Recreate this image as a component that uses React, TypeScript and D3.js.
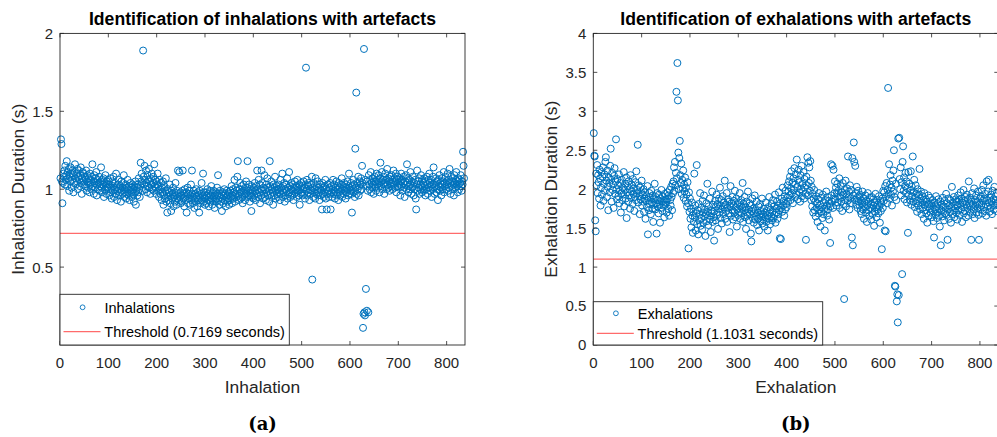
import React from 'react';
import * as d3 from 'd3';

// Inhalation durations (s), one value per inhalation
const inhalations1to100 = [
  1.07,1.32,1.29,1.05,0.91,1.04,1.10,1.08,1.12,1.03,1.15,1.06,1.09,1.18,1.02,1.11,1.07,1.13,0.99,1.08,1.05,1.14,1.10,1.01,1.06,1.12,1.09,0.98,1.04,1.11,1.16,1.07,1.03,1.10,1.05,1.13,1.00,1.08,1.12,1.06,1.02,1.09,1.14,1.04,0.97,1.07,1.11,1.05,1.10,1.03,
  1.08,1.02,1.06,1.12,0.99,1.05,1.09,1.01,1.07,1.04,0.98,1.10,1.03,1.06,1.00,1.08,1.16,1.02,1.05,0.97,1.09,1.04,1.01,1.07,1.11,0.96,1.03,1.06,1.00,1.04,1.08,0.99,1.02,1.05,1.14,1.01,0.98,1.06,1.03,1.07,0.95,1.04,1.00,1.09,1.02,0.97,1.05,1.01,1.06,1.03,
];
const inhalations101to200 = [
  1.00,0.96,1.03,1.07,0.98,1.01,0.94,1.05,0.99,1.02,1.08,0.95,1.00,1.04,0.97,1.10,1.01,0.93,0.99,1.03,1.06,0.96,1.00,0.98,1.02,0.92,1.05,0.99,1.01,0.97,1.04,1.09,0.95,1.00,0.98,1.03,0.94,1.01,0.97,1.06,1.00,0.96,1.02,0.93,0.99,1.04,0.98,1.01,0.95,1.03,
  0.97,1.00,0.92,1.02,0.98,1.05,0.90,0.99,1.01,0.96,1.03,0.98,1.07,1.00,0.95,1.02,1.17,1.05,1.10,1.04,0.99,1.89,1.08,1.03,1.15,1.06,1.00,1.12,1.04,0.98,1.09,1.02,1.06,1.13,1.01,1.05,0.97,1.07,1.03,1.10,1.00,1.04,1.08,0.99,1.16,1.02,1.06,1.01,0.97,1.05,
];
const inhalations201to300 = [
  1.03,1.10,0.99,1.02,0.95,1.06,1.00,0.97,1.04,0.93,1.01,0.98,1.05,0.90,0.96,1.02,0.94,0.99,1.07,0.92,0.97,0.85,1.00,0.95,0.93,0.98,1.03,0.91,0.96,0.86,0.99,0.94,0.97,1.01,0.89,0.95,0.98,0.92,1.04,0.96,0.90,0.99,0.94,1.12,0.97,0.93,1.11,0.95,0.98,0.91,
  0.96,0.92,0.99,1.12,0.94,0.97,0.89,1.00,0.95,0.93,0.98,0.85,0.96,1.01,0.91,0.97,0.94,0.99,0.90,0.96,1.03,0.93,1.12,0.97,0.91,0.95,0.99,0.88,0.94,0.97,0.92,1.00,0.95,0.89,0.98,0.93,0.96,0.85,0.99,0.94,0.91,0.97,1.04,0.93,0.96,1.10,0.92,0.98,0.95,0.90,
];
const inhalations301to400 = [
  0.94,0.98,0.91,0.96,1.00,0.93,0.97,0.89,0.95,0.99,0.92,0.96,1.02,0.94,0.90,0.97,0.93,0.99,0.95,0.88,0.96,0.92,0.98,0.94,1.01,0.97,1.09,0.93,0.96,0.90,0.99,0.95,0.92,0.97,0.86,0.94,0.98,0.91,0.96,1.00,0.93,0.97,0.89,0.95,0.99,0.92,0.96,0.94,0.98,0.90,
  0.97,0.93,0.99,0.95,1.02,0.91,0.96,1.00,0.94,0.98,1.06,0.92,0.97,1.01,0.95,0.99,1.08,1.18,0.96,0.93,1.00,0.97,1.04,0.94,0.98,1.02,0.95,0.91,0.99,1.03,0.96,1.00,0.93,0.97,1.05,0.98,1.01,1.18,0.95,0.99,1.03,0.96,0.92,1.00,0.97,0.86,1.02,0.95,0.99,0.94,
];
const inhalations401to500 = [
  1.01,0.96,1.04,0.99,0.93,1.02,0.97,1.12,1.00,0.95,1.06,0.98,1.03,0.91,1.00,0.96,1.12,0.99,1.04,0.94,1.01,0.97,1.09,0.95,1.00,0.93,1.03,0.98,1.07,0.96,1.01,0.99,0.92,1.18,1.02,0.97,1.05,0.95,1.00,0.98,0.90,1.03,0.96,1.01,1.08,0.94,0.99,1.02,0.97,1.00,
  0.95,1.03,0.98,1.00,0.93,1.06,0.97,1.01,0.99,1.10,0.95,1.02,0.98,1.04,0.92,1.00,0.96,1.03,0.99,1.07,0.94,1.01,0.97,1.11,0.98,1.02,0.95,1.00,1.04,0.96,0.99,1.03,0.93,1.01,0.97,1.05,1.00,0.98,1.02,0.95,1.06,0.99,1.01,0.96,1.03,0.90,1.00,0.97,1.04,0.98,
];
const inhalations501to600 = [
  1.02,0.96,1.00,1.05,0.97,1.01,0.94,1.03,1.78,0.99,1.06,0.96,1.02,0.98,1.04,0.93,1.00,0.97,1.03,0.99,1.08,0.42,1.01,0.95,1.04,0.98,1.00,0.94,1.07,0.97,1.02,0.99,1.05,0.96,1.01,0.98,0.93,1.03,1.00,0.96,0.99,0.87,1.04,0.97,1.01,0.95,1.02,0.98,1.06,0.94,
  1.00,0.87,0.97,1.03,0.99,0.95,1.01,0.97,1.04,0.87,0.98,1.02,0.95,1.00,1.06,0.97,1.03,0.99,0.94,1.01,0.98,1.05,0.96,1.02,1.00,0.93,1.04,0.98,1.01,0.96,1.03,0.99,1.07,0.95,1.00,1.02,0.97,1.04,0.99,1.01,0.94,1.03,0.98,1.00,1.05,0.96,1.02,1.10,0.97,1.01,
];
const inhalations601to700 = [
  0.99,1.04,0.97,0.85,1.02,1.00,1.06,0.98,1.03,0.95,1.26,1.01,1.62,0.97,1.04,1.00,1.08,0.96,1.02,1.05,0.99,1.03,1.07,1.00,1.15,1.04,0.11,0.20,1.90,0.21,0.19,1.06,0.36,1.02,0.22,1.05,0.99,0.21,1.09,1.03,1.00,1.06,1.11,0.98,1.04,1.01,1.07,1.03,0.97,1.05,
  1.08,1.02,1.05,0.99,1.10,1.03,1.06,1.01,1.09,1.04,0.98,1.07,1.17,1.02,1.05,1.11,1.00,1.06,1.03,1.08,0.97,1.04,1.10,1.02,1.06,1.00,1.13,1.03,1.07,1.01,1.05,0.99,1.08,1.04,1.02,1.09,1.06,1.00,1.04,1.12,1.03,1.07,1.01,1.05,1.10,0.98,1.06,1.02,1.08,1.04,
];
const inhalations701to836 = [
  1.01,1.07,1.03,0.96,1.05,1.10,1.02,1.06,0.99,1.04,1.08,1.01,0.95,1.05,1.03,1.09,1.00,1.16,1.04,1.07,0.98,1.02,1.06,1.00,1.11,1.03,0.97,1.05,1.01,1.08,1.02,0.96,1.04,1.00,1.06,0.94,0.87,1.03,1.12,0.99,1.05,1.01,1.07,0.97,1.03,1.00,1.09,1.02,0.98,1.06,
  1.01,1.04,0.99,1.07,1.02,0.96,1.05,1.00,1.08,1.03,0.97,1.06,1.01,1.10,1.04,0.99,1.02,1.06,0.95,1.03,1.00,1.08,1.14,1.01,0.97,1.04,1.02,1.07,0.98,1.05,1.00,0.93,1.06,1.02,1.09,0.99,1.04,1.01,0.96,1.07,1.03,1.00,1.05,1.11,0.98,1.04,1.02,1.08,1.00,1.05,
  1.03,1.10,0.99,1.06,1.01,1.13,1.04,0.97,1.08,1.02,1.05,1.00,1.07,1.03,0.96,1.09,1.04,1.01,1.06,1.11,1.02,1.05,0.98,1.07,1.03,1.00,1.06,1.04,1.09,1.02,0.99,1.05,1.03,1.24,1.15,1.07,
];

// Exhalation durations (s)
const exhalations1to100 = [
  2.72,2.43,2.42,1.60,1.46,2.20,2.05,2.31,1.95,2.18,2.09,1.88,2.25,2.14,1.79,2.02,2.22,1.93,2.16,2.28,1.85,2.07,2.19,1.98,2.35,2.41,2.11,1.90,2.24,2.03,1.73,2.15,2.08,1.96,2.30,2.52,2.12,1.84,2.21,1.99,2.06,1.76,2.17,2.27,1.94,2.10,2.64,2.00,1.87,2.13,
  2.05,1.91,2.19,1.82,1.98,2.08,1.70,1.95,2.12,1.86,2.02,1.93,2.22,1.78,1.99,2.07,1.88,2.15,1.63,1.96,2.04,1.84,2.10,1.92,2.00,1.75,2.18,1.89,2.06,1.97,1.81,2.13,1.94,2.01,1.72,1.90,2.09,1.86,2.23,1.95,1.99,2.57,1.83,2.05,1.91,1.68,2.02,1.87,1.96,2.11,
];
const exhalations101to200 = [
  1.79,1.93,1.84,2.00,1.71,1.88,1.96,1.62,1.85,1.91,1.77,2.04,1.42,1.86,1.73,1.95,1.81,1.89,1.68,1.98,1.83,1.75,1.92,1.58,1.87,1.80,2.07,1.74,1.90,1.82,1.43,1.95,1.78,1.86,1.69,1.93,1.81,1.57,1.88,1.76,1.99,1.84,1.72,1.91,1.79,1.85,1.64,1.94,1.80,1.87,
  1.83,1.70,1.96,1.88,1.75,1.92,1.66,1.99,1.86,1.79,2.03,1.90,1.73,2.07,1.95,2.10,2.28,1.98,2.35,2.05,2.21,3.25,2.14,3.62,3.14,2.47,2.00,2.40,2.62,2.18,2.08,2.33,1.94,2.12,2.01,2.24,1.89,2.06,1.97,2.15,1.85,2.02,1.93,1.78,2.09,1.82,1.24,1.96,1.71,1.88,
];
const exhalations201to300 = [
  1.62,1.75,1.51,1.83,1.66,1.44,1.71,1.58,2.20,1.64,1.79,1.47,1.69,2.31,1.55,1.73,1.42,1.81,1.60,1.67,1.95,1.53,1.76,1.63,1.48,1.85,1.70,1.57,1.92,1.65,1.74,1.40,1.68,1.82,1.59,2.07,1.71,1.54,1.78,1.66,1.88,1.61,1.45,1.73,1.69,1.97,1.58,1.80,1.64,1.34,
  1.72,1.85,1.60,1.78,1.93,1.67,1.81,1.49,1.75,1.88,1.70,2.02,1.63,1.79,1.86,1.56,1.74,1.91,1.68,1.83,1.77,2.11,1.62,1.80,1.72,1.95,1.58,1.76,1.87,1.69,1.84,1.45,1.78,2.04,1.66,1.82,1.73,1.90,1.61,1.79,1.85,1.70,1.98,1.64,1.77,1.88,1.52,1.74,1.81,1.67,
];
const exhalations301to400 = [
  1.83,1.71,1.95,1.62,1.78,1.86,1.69,1.76,2.08,1.58,1.81,1.73,1.90,1.64,1.77,1.49,1.84,1.70,1.66,1.97,1.74,1.60,1.82,1.68,1.79,1.43,1.33,1.72,1.88,1.63,1.75,1.57,1.69,1.92,1.61,1.73,1.66,1.84,1.54,1.70,1.62,1.78,1.47,1.67,1.81,1.59,1.72,1.65,1.88,1.56,
  1.68,1.61,1.75,1.52,1.70,1.64,1.83,1.58,1.72,1.66,1.47,1.77,1.62,1.90,1.69,1.55,1.74,1.65,1.81,1.60,1.71,1.86,1.63,1.78,1.67,1.93,1.57,1.75,1.70,1.84,1.62,1.79,1.68,1.96,1.73,1.37,1.82,1.36,1.76,1.88,1.71,2.02,1.79,1.85,1.66,1.91,1.74,1.98,1.81,1.77,
];
const exhalations401to500 = [
  1.89,2.05,1.84,1.97,2.10,1.92,2.16,1.86,2.01,2.23,1.95,2.08,1.82,2.14,1.99,2.27,1.90,2.06,2.19,1.93,2.38,2.03,1.87,2.12,2.25,1.96,2.09,1.84,2.18,2.00,2.30,1.91,2.07,1.97,2.22,1.88,2.13,2.02,1.94,1.35,2.16,2.05,2.41,1.92,2.34,2.08,2.28,1.98,2.36,2.11,
  1.86,2.03,1.78,1.94,1.70,1.88,1.99,1.73,1.84,1.65,1.91,1.76,1.82,1.58,1.87,1.69,1.95,1.74,1.80,1.52,1.89,1.71,1.77,1.63,1.93,1.68,1.83,1.75,1.47,1.86,1.72,1.97,1.79,1.66,1.90,1.74,1.85,1.61,1.81,1.31,1.78,2.32,1.92,1.84,2.30,1.76,2.25,1.88,1.95,2.10,
];
const exhalations501to600 = [
  1.87,2.02,1.79,1.95,2.07,1.83,1.98,1.91,2.14,1.76,1.89,2.04,1.84,1.96,1.72,2.08,1.93,1.81,0.59,1.99,1.86,2.11,1.78,1.94,2.01,1.85,2.42,1.90,1.97,1.74,2.05,1.88,1.82,1.99,1.38,2.40,1.28,1.92,2.60,2.35,1.86,2.30,1.95,1.80,2.03,1.89,1.76,1.98,1.84,1.91,
  1.79,1.93,1.72,1.86,1.68,1.81,1.97,1.74,1.88,1.62,1.83,1.77,1.92,1.70,1.85,1.58,1.79,1.95,1.73,1.84,1.66,1.89,1.76,1.81,1.61,1.90,1.75,1.68,1.87,1.79,1.53,1.83,1.71,1.94,1.77,1.64,1.86,1.74,1.80,1.69,1.91,1.78,1.57,1.85,1.72,1.82,1.23,1.88,1.76,1.98,
];
const exhalations601to700 = [
  1.85,1.96,1.47,2.04,1.46,1.91,2.08,1.82,1.99,3.30,1.94,2.32,1.88,2.06,2.18,1.93,2.02,1.79,2.11,1.97,2.24,2.50,1.90,0.76,0.75,2.07,1.86,0.56,0.65,0.29,2.65,0.64,2.66,2.13,2.00,2.28,1.92,2.09,0.91,2.35,2.55,1.98,2.15,1.87,2.04,2.21,1.95,2.10,1.83,2.01,
  1.44,2.22,1.92,2.07,1.86,1.98,2.23,1.80,2.03,1.91,2.42,1.84,1.96,2.12,1.77,1.89,2.05,1.82,1.94,1.71,2.00,1.85,1.79,1.93,2.26,1.74,1.88,1.97,1.68,1.83,1.91,1.76,1.86,1.62,1.95,1.80,1.73,1.87,1.69,1.84,1.57,1.78,1.92,1.66,1.81,1.75,1.89,1.70,1.82,1.64,
];
const exhalations701to836 = [
  1.79,1.86,1.72,1.59,1.38,1.83,1.74,1.68,1.91,1.77,1.63,1.81,1.70,1.87,1.66,1.75,1.52,1.84,1.28,1.73,1.80,1.65,1.89,1.71,1.78,1.60,1.85,1.69,1.76,1.94,1.67,1.82,1.35,1.74,1.88,1.62,1.79,1.71,1.86,1.57,1.77,2.03,1.68,1.83,1.73,1.90,1.64,1.80,1.75,1.87,
  1.70,1.84,1.61,1.79,1.92,1.73,1.86,1.67,1.81,1.96,1.74,1.88,1.58,1.83,1.77,1.99,1.69,1.85,1.72,1.90,1.64,1.80,1.93,1.76,1.87,1.66,2.10,1.82,1.71,1.89,1.78,1.35,1.84,1.95,1.68,1.80,1.74,2.01,1.63,1.86,1.79,1.92,1.70,1.83,1.76,1.97,1.67,1.35,1.81,1.88,
  1.74,1.91,1.79,1.99,1.69,1.85,2.05,1.77,1.88,1.72,1.94,1.81,1.66,2.10,1.86,1.78,1.97,2.12,1.83,1.71,1.89,1.76,1.93,1.84,1.68,1.98,1.80,1.87,1.74,2.03,1.79,1.91,1.85,1.72,1.95,1.82,
];

const inhalations = [
  ...inhalations1to100, ...inhalations101to200, ...inhalations201to300, ...inhalations301to400,
  ...inhalations401to500, ...inhalations501to600, ...inhalations601to700, ...inhalations701to836,
];
const exhalations = [
  ...exhalations1to100, ...exhalations101to200, ...exhalations201to300, ...exhalations301to400,
  ...exhalations401to500, ...exhalations501to600, ...exhalations601to700, ...exhalations701to836,
];

const inhalationThreshold = 0.7169;
const exhalationThreshold = 1.1031;
const xTicks = [0, 100, 200, 300, 400, 500, 600, 700, 800];
const inhalationYTicks = [0.5, 1, 1.5, 2];
const exhalationYTicks = [0, 0.5, 1, 1.5, 2, 2.5, 3, 3.5, 4];

const SANS = '"Liberation Sans", Arial, Helvetica, sans-serif';
const BLUE = '#0072BD';
const RED = '#ff6b6b';
const AXIS = '#262626';

type PanelProps = {
  values: number[];
  threshold: number;
  yMax: number;
  yTicks: number[];
  title: string;
  xLabel: string;
  yLabel: string;
  seriesName: string;
  caption: string;
  left: number;
  legend: { w: number; top: number; markerY: number; textY1: number; lineY: number; textY2: number };
};

const Panel = ({ values, threshold, yMax, yTicks, title, xLabel, yLabel, seriesName, caption, left, legend }: PanelProps) => {
  const top = 33.4;
  const bottom = 345;
  const width = 405;
  const right = left + width;
  const x = d3.scaleLinear().domain([0, 838]).range([left, right]);
  const y = d3.scaleLinear().domain([0, yMax]).range([bottom, top]);
  const tl = 4;
  const cx = (left + right) / 2;
  const fmt = d3.format('~g');

  return (
    <g>
      {values.map((v, i) => (
        <circle key={i} cx={x(i + 1)} cy={y(v)} r={3.5} fill="none" stroke={BLUE} strokeWidth={1} />
      ))}
      <line x1={left} x2={right} y1={y(threshold)} y2={y(threshold)} stroke={RED} strokeWidth={1.2} />

      {/* axes box with inward ticks */}
      <rect x={left} y={top} width={width} height={bottom - top} fill="none" stroke={AXIS} strokeWidth={0.9} />
      {xTicks.map(t => (
        <g key={'x' + t}>
          <line x1={x(t)} x2={x(t)} y1={bottom} y2={bottom - tl} stroke={AXIS} strokeWidth={0.8} />
          <line x1={x(t)} x2={x(t)} y1={top} y2={top + tl} stroke={AXIS} strokeWidth={0.8} />
          <text x={x(t)} y={bottom + 23.3} textAnchor="middle" fontSize={15} fill={AXIS} fontFamily={SANS}>{t}</text>
        </g>
      ))}
      {yTicks.map(t => (
        <g key={'y' + t}>
          <line x1={left} x2={left + tl} y1={y(t)} y2={y(t)} stroke={AXIS} strokeWidth={0.8} />
          <line x1={right} x2={right - tl} y1={y(t)} y2={y(t)} stroke={AXIS} strokeWidth={0.8} />
          <text x={left - 7} y={y(t)} dy="0.36em" textAnchor="end" fontSize={15} fill={AXIS} fontFamily={SANS}>{fmt(t)}</text>
        </g>
      ))}

      {/* legend */}
      <rect x={left} y={legend.top} width={legend.w} height={bottom - legend.top} fill="#fff" stroke={AXIS} strokeWidth={0.9} />
      <circle cx={left + 22.6} cy={legend.markerY} r={2.4} fill="none" stroke={BLUE} strokeWidth={0.9} />
      <text x={left + 44.5} y={legend.textY1} fontSize={14.5} fill="#000" fontFamily={SANS}>{seriesName}</text>
      <line x1={left + 3.5} x2={left + 40.5} y1={legend.lineY} y2={legend.lineY} stroke={RED} strokeWidth={1.2} />
      <text x={left + 44.3} y={legend.textY2} fontSize={14.5} fill="#000" fontFamily={SANS}>
        {`Threshold (${threshold.toFixed(4)} seconds)`}
      </text>

      <text x={cx} y={25} textAnchor="middle" fontSize={17.6} fontWeight="bold" fill="#000" fontFamily={SANS}>{title}</text>
      <text x={cx} y={392.7} textAnchor="middle" fontSize={17.4} fill={AXIS} fontFamily={SANS}>{xLabel}</text>
      <text transform={`translate(${left - 36.5},${(top + bottom) / 2}) rotate(-90)`} textAnchor="middle" fontSize={17.4} fill={AXIS} fontFamily={SANS}>{yLabel}</text>
      <text x={cx} y={430} textAnchor="middle" fontSize={18} fontWeight="bold" fill="#000" fontFamily={'"DejaVu Serif", "Liberation Serif", serif'}>{caption}</text>
    </g>
  );
};

export default function App() {
  return (
    <div style={{ position: 'fixed', left: 0, top: 0 }}>
      <svg width={997} height={437} style={{ display: 'block', background: '#fff' }}>
        <Panel
          values={inhalations}
          threshold={inhalationThreshold}
          yMax={2}
          yTicks={inhalationYTicks}
          title="Identification of inhalations with artefacts"
          xLabel="Inhalation"
          yLabel="Inhalation Duration (s)"
          seriesName="Inhalations"
          caption="(a)"
          left={60}
          legend={{ w: 229.3, top: 294.3, markerY: 307.3, textY1: 313.3, lineY: 331.7, textY2: 336.7 }}
        />
        <Panel
          values={exhalations}
          threshold={exhalationThreshold}
          yMax={4}
          yTicks={exhalationYTicks}
          title="Identification of exhalations with artefacts"
          xLabel="Exhalation"
          yLabel="Exhalation Duration (s)"
          seriesName="Exhalations"
          caption="(b)"
          left={593.3}
          legend={{ w: 229.4, top: 301.7, markerY: 313.3, textY1: 319, lineY: 333.3, textY2: 339 }}
        />
      </svg>
    </div>
  );
}
